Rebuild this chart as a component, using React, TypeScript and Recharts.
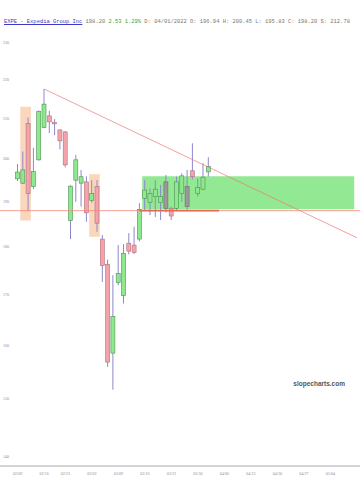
import React from "react";
import { ComposedChart, Bar, XAxis, YAxis, ReferenceArea, ReferenceLine } from "recharts";

// trading days on the axis (past candles first, then the empty future days)
const dates = [
  "02/09", "02/10", "02/11", "02/14", "02/15", "02/16", "02/17", "02/18", "02/22", "02/23",
  "02/24", "02/25", "02/28", "03/01", "03/02", "03/03", "03/04", "03/07", "03/08", "03/09",
  "03/10", "03/11", "03/14", "03/15", "03/16", "03/17", "03/18", "03/21", "03/22", "03/23",
  "03/24", "03/25", "03/28", "03/29", "03/30", "03/31", "04/01", "04/04", "04/05", "04/06",
  "04/07", "04/08", "04/11", "04/12", "04/13", "04/14", "04/15", "04/18", "04/19", "04/20",
  "04/21", "04/22", "04/25", "04/26", "04/27", "04/28", "04/29", "05/02", "05/03", "05/04",
  "05/05", "05/06", "05/09", "05/10", "05/11",
];

const opens = [
  195.3, 194.3, 208.7, 193.5, 199.8, 207.7, 210.6, 208.9, 207.1, 206.6,
  185.8, 195.0, 194.3, 194.6, 190.3, 193.5, 181.7, 176.3, 158.5, 172.5,
  169.8, 180.8, 180.4, 181.7, 190.8, 189.8, 191.2, 189.8, 188.5, 188.5,
  188.5, 191.9, 188.9, 197.2, 191.9, 192.9, 196.94,
];
const highs = [
  198.8, 201.8, 210.2, 202.7, 212.0, 217.5, 211.9, 209.8, 207.2, 206.8,
  193.8, 201.0, 197.4, 195.9, 195.0, 195.0, 182.6, 177.3, 174.0, 180.4,
  180.6, 183.0, 184.4, 189.7, 195.0, 193.1, 195.0, 193.9, 196.2, 188.9,
  195.8, 196.6, 197.4, 203.8, 195.4, 199.0, 200.45,
];
const lows = [
  194.8, 194.1, 187.9, 192.9, 199.6, 207.5, 206.3, 205.8, 202.3, 198.0,
  181.7, 190.0, 188.9, 185.5, 189.8, 183.3, 172.6, 155.9, 151.7, 171.9,
  168.2, 178.4, 178.5, 181.2, 188.0, 187.0, 186.6, 185.9, 187.6, 185.9,
  188.0, 190.0, 188.2, 195.2, 191.2, 192.7, 195.83,
];
const closes = [
  196.9, 197.4, 191.9, 197.0, 211.7, 213.6, 209.1, 208.6, 204.4, 198.6,
  193.6, 199.8, 195.8, 187.5, 191.9, 185.2, 176.0, 156.8, 165.6, 174.4,
  178.6, 179.1, 178.8, 188.3, 192.7, 191.9, 192.9, 191.2, 194.6, 186.8,
  194.6, 196.0, 193.5, 195.8, 193.3, 195.7, 198.2,
];
// candles drawn grey in the original
const greyDays = ["03/22", "03/28"];

const priceTicks = [140, 150, 160, 170, 180, 190, 200, 210, 220, 230];
const weekTicks = ["02/09", "02/16", "02/23", "03/02", "03/09", "03/16", "03/23", "03/30", "04/06", "04/13", "04/20", "04/27", "05/04"];

const data = dates.map((date, i) =>
  i < opens.length
    ? { date, open: opens[i], high: highs[i], low: lows[i], close: closes[i], range: [lows[i], highs[i]] }
    : { date }
);

const Candle = (props: any) => {
  const { x, y, width, height, payload } = props;
  if (!payload || payload.open == null) return null;
  const { open, close, high, low } = payload;
  const top = Math.min(y, y + height);
  const h = Math.abs(height);
  const span = Math.log(high) - Math.log(low) || 1;
  const py = (v: number) => top + (h * (Math.log(high) - Math.log(v))) / span;
  const cx = x + width / 2;
  const up = close >= open;
  const grey = greyDays.includes(payload.date);
  const fill = grey ? "#9a9a9a" : up ? "#8ee88e" : "#f5a3ab";
  const stroke = grey ? "#6d6d6d" : up ? "#4f8f55" : "#b0707a";
  const bTop = py(Math.max(open, close));
  const bBot = py(Math.min(open, close));
  return (
    <g>
      <line x1={cx} x2={cx} y1={top} y2={top + h} stroke="#8c88cc" strokeWidth={1} />
      <rect
        x={x + 0.5}
        y={bTop}
        width={width - 1}
        height={Math.max(bBot - bTop, 1)}
        fill={fill}
        stroke={stroke}
        strokeWidth={0.6}
      />
    </g>
  );
};

export default function App() {
  return (
    <div style={{ position: "relative", width: 360, height: 480, background: "#fff" }}>
      <style>{"body{margin:0}"}</style>
      <div
        style={{
          position: "absolute",
          left: 4,
          top: 18,
          fontFamily: "'Liberation Mono', monospace",
          fontSize: 5.45,
          color: "#777",
          whiteSpace: "nowrap",
          zIndex: 2,
        }}
      >
        <span style={{ color: "#3b3bc4", textDecoration: "underline" }}>EXPE - Expedia Group Inc</span>
        {" 198.20 "}
        <span style={{ color: "#3da33d" }}>2.53 1.29%</span>
        {" D: 04/01/2022 O: 196.94 H: 200.45 L: 195.83 C: 198.20 S: 212.78"}
      </div>
      <div
        style={{
          position: "absolute",
          right: 15,
          top: 380,
          fontFamily: "'Liberation Sans', Arial, sans-serif",
          fontWeight: "bold",
          fontSize: 6.5,
          color: "#555",
          zIndex: 2,
        }}
      >
        slopecharts.com
      </div>
      <ComposedChart width={360} height={480} data={data} margin={{ top: 30, right: 0, bottom: 0, left: 0 }}>
        <XAxis
          dataKey="date"
          ticks={weekTicks}
          interval={0}
          padding={{ left: 15, right: 0.5 }}
          height={14}
          tickLine={false}
          axisLine={{ stroke: "#aaa" }}
          tick={{ fontSize: 4, fill: "#8a8a9a" }}
          tickMargin={0}
        />
        <YAxis
          scale="log"
          domain={[138.44, 233.44]}
          allowDataOverflow
          ticks={priceTicks}
          width={1}
          mirror
          axisLine={false}
          tickLine={false}
          tickSize={0}
          tickMargin={3}
          tick={{ fontSize: 4, fill: "#8a8a9a" }}
        />
        <ReferenceLine y={188.0} stroke="#f08a78" strokeWidth={0.8} />
        <ReferenceLine
          segment={[{ x: "03/15", y: 188.0 }, { x: "04/05", y: 188.0 }]}
          stroke="#e86a52"
          strokeWidth={1.6}
        />
        <Bar dataKey="range" barSize={5} shape={Candle} isAnimationActive={false} />
        <ReferenceArea x1="03/16" x2="05/10" y1={188.3} y2={195.9} fill="#6fe06f" fillOpacity={0.75} stroke="none" />
        <ReferenceArea x1="02/10" x2="02/11" y1={185.8} y2={212.9} fill="#f5b07a" fillOpacity={0.5} stroke="none" />
        <ReferenceArea x1="03/02" x2="03/03" y1={182.2} y2={196.4} fill="#f5b07a" fillOpacity={0.5} stroke="none" />
        <ReferenceLine
          segment={[{ x: "02/16", y: 217.5 }, { x: "05/11", y: 182.0 }]}
          stroke="#e87a7a"
          strokeWidth={0.7}
          ifOverflow="visible"
        />
      </ComposedChart>
    </div>
  );
}
